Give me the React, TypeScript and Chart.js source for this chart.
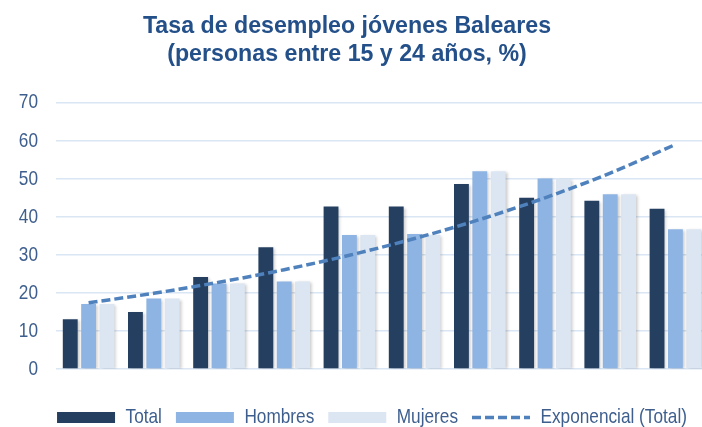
import React, { useEffect, useRef } from "react";
import { Chart, registerables } from "chart.js";

Chart.register(...registerables);

const categories = ["1", "2", "3", "4", "5", "6", "7", "8", "9", "10"];
const totalValues = [13.1, 15.0, 24.2, 32.0, 42.7, 42.7, 48.6, 45.0, 44.2, 42.1];
const hombresValues = [17.1, 18.5, 22.5, 23.0, 35.2, 35.5, 52.0, 50.1, 45.9, 36.7];
const mujeresValues = [17.1, 18.5, 22.5, 23.0, 35.2, 35.3, 52.0, 50.0, 45.9, 36.7];
const trendValues = [17.4, 19.9, 22.8, 26.1, 29.9, 34.3, 39.3, 45.0, 51.5, 59.0];
const titleLines = ["Tasa de desempleo jóvenes Baleares", "(personas entre 15 y 24 años, %)"];
const seriesNames = ["Total", "Hombres", "Mujeres", "Exponencial (Total)"];

// "Liberation Sans Narrow" is not installed; text in this family is drawn
// with Liberation Sans, horizontally condensed by the plugin below.
const NARROW = "'Liberation Sans Narrow', 'Liberation Sans', Arial, sans-serif";
const CONDENSE = 0.82;
const TEXT_BLUE = "#3e5f8e";
const LEGEND_SHIFT = 36;
const TITLE_SHIFT = -14;

const condensedText = {
  id: "condensedText",
  beforeInit(chart: any) {
    const ctx = chart.ctx as CanvasRenderingContext2D;
    if ((ctx as any).__condensed) return;
    (ctx as any).__condensed = true;
    const origMeasure = ctx.measureText.bind(ctx);
    const origFill = ctx.fillText.bind(ctx);
    const isNarrow = () => ctx.font.indexOf("Narrow") >= 0;
    (ctx as any).measureText = (t: string) => {
      const m = origMeasure(t);
      if (!isNarrow()) return m;
      return {
        width: m.width * CONDENSE,
        actualBoundingBoxAscent: m.actualBoundingBoxAscent,
        actualBoundingBoxDescent: m.actualBoundingBoxDescent,
        actualBoundingBoxLeft: m.actualBoundingBoxLeft * CONDENSE,
        actualBoundingBoxRight: m.actualBoundingBoxRight * CONDENSE,
        fontBoundingBoxAscent: m.fontBoundingBoxAscent,
        fontBoundingBoxDescent: m.fontBoundingBoxDescent,
      };
    };
    (ctx as any).fillText = (t: string, x: number, y: number, mw?: number) => {
      if (!isNarrow()) {
        return mw === undefined ? origFill(t, x, y) : origFill(t, x, y, mw);
      }
      const w = origMeasure(t).width * CONDENSE;
      origFill(t, x, y, mw === undefined ? w : Math.min(mw, w));
    };
  },
};

// Legend and title are not centred on the canvas in the reference.
const boxOffsets = {
  id: "boxOffsets",
  afterLayout(chart: any) {
    if (chart.legend) chart.legend.left += LEGEND_SHIFT;
    if (chart.titleBlock) chart.titleBlock.left += TITLE_SHIFT;
  },
};

const barShadow = {
  id: "barShadow",
  beforeDatasetDraw(chart: any, args: any) {
    if (args.meta.type !== "bar") return;
    const ctx = chart.ctx;
    ctx.save();
    ctx.shadowColor = "rgba(0,0,0,0.22)";
    ctx.shadowBlur = 3;
    ctx.shadowOffsetX = 2;
    ctx.shadowOffsetY = 1;
  },
  afterDatasetDraw(chart: any, args: any) {
    if (args.meta.type !== "bar") return;
    chart.ctx.restore();
  },
};

export default function App() {
  const canvasRef = useRef<HTMLCanvasElement | null>(null);

  useEffect(() => {
    if (!canvasRef.current) return;
    const chart = new Chart(canvasRef.current, {
      type: "bar",
      data: {
        labels: categories,
        datasets: [
          {
            type: "bar",
            label: seriesNames[0],
            data: totalValues,
            backgroundColor: "#243f60",
            borderWidth: 0,
            pointStyle: "rect",
            order: 1,
          },
          {
            type: "bar",
            label: seriesNames[1],
            data: hombresValues,
            backgroundColor: "#8eb4e3",
            borderWidth: 0,
            pointStyle: "rect",
            order: 1,
          },
          {
            type: "bar",
            label: seriesNames[2],
            data: mujeresValues,
            backgroundColor: "#dce6f2",
            borderWidth: 0,
            pointStyle: "rect",
            order: 1,
          },
          {
            type: "line",
            label: seriesNames[3],
            data: trendValues,
            borderColor: "#4f81bd",
            backgroundColor: "#4f81bd",
            borderWidth: 3.5,
            borderDash: [9, 4],
            pointRadius: 0,
            pointStyle: "line",
            tension: 0.4,
            cubicInterpolationMode: "monotone",
            fill: false,
            order: 0,
          },
        ] as any,
      },
      options: {
        responsive: false,
        animation: false,
        layout: { padding: { left: 0, right: 0, top: 0, bottom: -11 } },
        datasets: {
          bar: { categoryPercentage: 0.845, barPercentage: 0.81 },
        } as any,
        scales: {
          x: {
            display: true,
            grid: { display: false },
            border: { display: false },
            ticks: { display: false },
            afterFit: (s: any) => {
              s.height = 24;
            },
          },
          y: {
            min: 0,
            max: 70,
            border: { display: false },
            grid: { color: "#dae6f4", lineWidth: 1.5, drawTicks: false },
            ticks: {
              stepSize: 10,
              padding: 18,
              color: TEXT_BLUE,
              font: { family: NARROW, size: 21 },
            },
            afterFit: (s: any) => {
              s.width = 56;
            },
          },
        },
        plugins: {
          tooltip: { enabled: false },
          title: {
            display: true,
            text: titleLines,
            color: "#24508a",
            font: { family: "'Liberation Sans', Arial, sans-serif", size: 23.2, weight: "bold", lineHeight: 1.2 },
            padding: { top: 13, bottom: 34 },
          },
          legend: {
            position: "bottom",
            labels: {
              usePointStyle: true,
              pointStyleWidth: 58,
              boxHeight: 11,
              padding: 14,
              color: TEXT_BLUE,
              font: { family: NARROW, size: 21 },
              sort: (a: any, b: any) => a.datasetIndex - b.datasetIndex,
              generateLabels: (ch: any) => {
                const items = (Chart.defaults.plugins.legend.labels as any).generateLabels(ch);
                return items.map((it: any) => {
                  const ds = ch.data.datasets[it.datasetIndex];
                  if (ds.type === "line") {
                    return {
                      ...it,
                      pointStyle: "line",
                      strokeStyle: ds.borderColor,
                      fillStyle: ds.borderColor,
                      lineWidth: 3.5,
                      lineDash: [9, 4],
                    };
                  }
                  return { ...it, pointStyle: "rect", lineWidth: 0, fillStyle: ds.backgroundColor };
                });
              },
            },
          },
        },
      },
      plugins: [condensedText, boxOffsets, barShadow],
    } as any);
    return () => chart.destroy();
  }, []);

  // The reference's plot area runs a few pixels past the right edge of the
  // picture, so the canvas is slightly wider than the clipped 702px frame.
  return (
    <div
      style={{
        position: "fixed",
        left: 0,
        top: 0,
        width: 702,
        height: 427,
        overflow: "hidden",
        background: "#fff",
      }}
    >
      <canvas ref={canvasRef} width={708} height={427} style={{ display: "block" }} />
    </div>
  );
}
